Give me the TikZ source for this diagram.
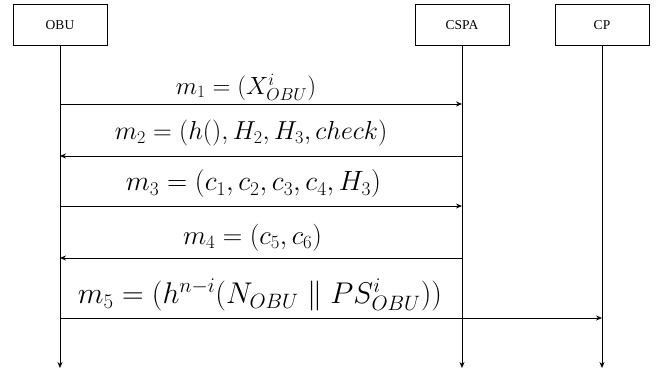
\documentclass[tikz,border=0pt]{standalone}
\usepackage{fontspec}
\setmainfont{Liberation Serif}
\usetikzlibrary{arrows.meta}
\begin{document}
\begin{tikzpicture}[x=1pt,y=-1pt,
  actor/.style={draw,line width=0.7pt,minimum width=94pt,minimum height=41pt,inner sep=0pt,font=\fontsize{13.5}{16}\selectfont},
  msg/.style={line width=0.7pt,-{Stealth[length=6pt,width=5pt]}},
  life/.style={line width=0.7pt,-{Stealth[length=6pt,width=5pt]}},
  lbl/.style={inner sep=0pt,font=\fontsize{25}{30}\selectfont}]
\useasboundingbox (0,0) rectangle (657,377);
\node[actor] (obu) at (60,25) {OBU};
\node[actor] (cspa) at (462,25) {CSPA};
\node[actor] (cp) at (602,25) {CP};
\coordinate (obuE) at (60,368);
\coordinate (cspaE) at (462,368);
\coordinate (cpE) at (602,368);
\draw[life] (obu) -- (obuE);
\draw[life] (cspa) -- (cspaE);
\draw[life] (cp) -- (cpE);
\coordinate (a1) at (60,104); \coordinate (b1) at (462,104);
\coordinate (a2) at (60,156); \coordinate (b2) at (462,156);
\coordinate (a3) at (60,206); \coordinate (b3) at (462,206);
\coordinate (a4) at (60,258); \coordinate (b4) at (462,258);
\coordinate (a5) at (60,318); \coordinate (b5) at (602,318);
\draw[msg] (a1) -- (b1);
\draw[msg] (b2) -- (a2);
\draw[msg] (a3) -- (b3);
\draw[msg] (b4) -- (a4);
\draw[msg] (a5) -- (b5);
\node[lbl] (l1) at (246,87) {$m_1=(X^i_{OBU})$};
\node[lbl,scale=1.046] (l2) at (251,133) {$m_2=(h(),H_2,H_3,check)$};
\node[lbl,scale=1.124] (l3) at (253.5,184) {$m_3=(c_1,c_2,c_3,c_4,H_3)$};
\node[lbl,scale=1.086] (l4) at (252.5,238) {$m_4=(c_5,c_6)$};
\node[lbl,scale=1.205] (l5) at (260,295) {$m_5=(h^{n-i}(N_{OBU}\parallel PS^i_{OBU}))$};
\end{tikzpicture}
\end{document}
